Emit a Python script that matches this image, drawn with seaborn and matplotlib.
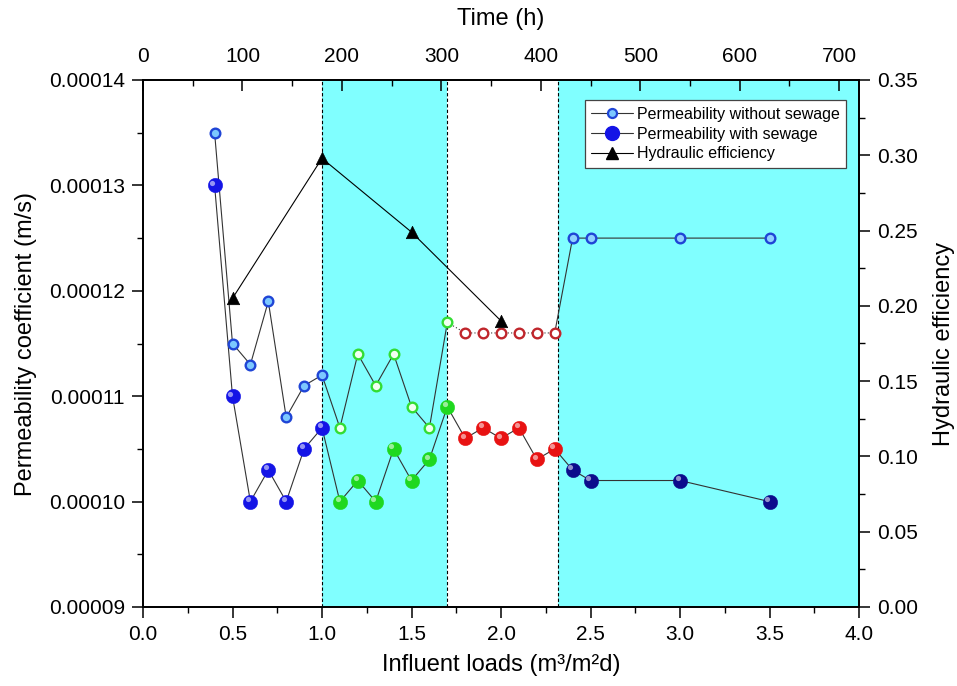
import numpy as np
import pandas as pd
import matplotlib
matplotlib.use("Agg")
import matplotlib.pyplot as plt
import seaborn as sns
from matplotlib.lines import Line2D
from matplotlib.ticker import MultipleLocator, FormatStrFormatter
from matplotlib.transforms import offset_copy

# ---------------- data ----------------
loads = [0.4, 0.5, 0.6, 0.7, 0.8, 0.9, 1.0,
         1.1, 1.2, 1.3, 1.4, 1.5, 1.6, 1.7,
         1.8, 1.9, 2.0, 2.1, 2.2, 2.3,
         2.4, 2.5, 3.0, 3.5]
perm_without = [1.35e-4, 1.15e-4, 1.13e-4, 1.19e-4, 1.08e-4, 1.11e-4, 1.12e-4,
                1.07e-4, 1.14e-4, 1.11e-4, 1.14e-4, 1.09e-4, 1.07e-4, 1.17e-4,
                1.16e-4, 1.16e-4, 1.16e-4, 1.16e-4, 1.16e-4, 1.16e-4,
                1.25e-4, 1.25e-4, 1.25e-4, 1.25e-4]
perm_with = [1.30e-4, 1.10e-4, 1.00e-4, 1.03e-4, 1.00e-4, 1.05e-4, 1.07e-4,
             1.00e-4, 1.02e-4, 1.00e-4, 1.05e-4, 1.02e-4, 1.04e-4, 1.09e-4,
             1.06e-4, 1.07e-4, 1.06e-4, 1.07e-4, 1.04e-4, 1.05e-4,
             1.03e-4, 1.02e-4, 1.02e-4, 1.00e-4]
stage = ["A"] * 7 + ["B"] * 7 + ["C"] * 6 + ["D"] * 4

eff_loads = [0.5, 1.0, 1.5, 2.0]
efficiency = [0.205, 0.298, 0.249, 0.19]

shaded_ranges = [(1.0, 1.7), (2.32, 4.0)]
boundaries = [1.0, 1.7, 2.32]

hours_per_load = 180
legend_labels = ["Permeability without sewage", "Permeability with sewage", "Hydraulic efficiency"]

open_face = {"A": "#7cc8ff", "B": "#f2fff2", "C": "#ffffff", "D": "#8fd0ff"}
open_edge = {"A": "#1f45d6", "B": "#33dd33", "C": "#c0262c", "D": "#1f45d6"}
fill_col = {"A": "#1414e6", "B": "#1fd81f", "C": "#e81212", "D": "#0c0c8c"}

df = pd.DataFrame({"load": loads, "without": perm_without,
                   "with": perm_with, "stage": stage})
eff_df = pd.DataFrame({"load": eff_loads, "eff": efficiency})

# ---------------- style ----------------
sns.set_theme(style="ticks")
plt.rcParams["font.family"] = ["Liberation Sans", "DejaVu Sans"]
plt.rcParams["text.color"] = "black"
plt.rcParams["axes.labelcolor"] = "black"
plt.rcParams["xtick.color"] = "black"
plt.rcParams["ytick.color"] = "black"
plt.rcParams["axes.edgecolor"] = "black"

fig = plt.figure(figsize=(9.57, 6.86), dpi=100)
ax = fig.add_axes([143 / 957, 1 - 607 / 686, 716 / 957, 527 / 686])
ax.set_facecolor("white")

for a, b in shaded_ranges:
    ax.axvspan(a, b, color="#80ffff", lw=0, zorder=0)
for xb in boundaries:
    ax.axvline(xb, color="black", ls=(0, (3, 2)), lw=0.8, zorder=1)

line_col = "#333333"
# open series lines
seg1 = df.iloc[0:14]
seg2 = df.iloc[13:20]
seg3 = df.iloc[19:24]
sns.lineplot(data=seg1, x="load", y="without", ax=ax, color=line_col, lw=0.8,
             estimator=None, sort=False, legend=False, zorder=2)
sns.lineplot(data=seg2, x="load", y="without", ax=ax, color=line_col, lw=0.8,
             ls=(0, (1, 2)), estimator=None, sort=False, legend=False, zorder=2)
sns.lineplot(data=seg3, x="load", y="without", ax=ax, color=line_col, lw=0.8,
             estimator=None, sort=False, legend=False, zorder=2)
# filled series line
sns.lineplot(data=df, x="load", y="with", ax=ax, color=line_col, lw=0.8,
             estimator=None, sort=False, legend=False, zorder=2)

hl = offset_copy(ax.transData, fig=fig, x=-1.6, y=1.8, units="points")
for st in ["A", "B", "C", "D"]:
    sub = df[df["stage"] == st]
    sns.scatterplot(data=sub, x="load", y="without", ax=ax, marker="o", s=48,
                    color=open_face[st], edgecolor=open_edge[st], linewidth=1.7,
                    zorder=4, legend=False)
    sns.scatterplot(data=sub, x="load", y="with", ax=ax, marker="o", s=108,
                    color=fill_col[st], edgecolor=fill_col[st], linewidth=0.3,
                    zorder=4, legend=False)
    sns.scatterplot(data=sub, x="load", y="with", ax=ax, marker="o", s=14,
                    color="white", alpha=0.55, linewidth=0, transform=hl,
                    zorder=5, legend=False)

ax.set_xlim(0, 4.0)
ax.set_ylim(9e-5, 1.4e-4)
ax.xaxis.set_major_locator(MultipleLocator(0.5))
ax.xaxis.set_minor_locator(MultipleLocator(0.25))
ax.yaxis.set_major_locator(MultipleLocator(1e-5))
ax.yaxis.set_minor_locator(MultipleLocator(5e-6))
ax.xaxis.set_major_formatter(FormatStrFormatter("%.1f"))
ax.yaxis.set_major_formatter(FormatStrFormatter("%.5f"))
ax.tick_params(which="major", direction="out", length=8, width=1.1, labelsize=15,
               bottom=True, left=True, top=False, right=False, pad=5)
ax.tick_params(which="minor", direction="out", length=4.5, width=1.0,
               bottom=True, left=True, top=False, right=False)
ax.set_xlabel("Influent loads (m³/m²d)", fontsize=17)
ax.set_ylabel("Permeability coefficient (m/s)", fontsize=17)
ax.xaxis.set_label_coords(0.5, -0.09)
ax.yaxis.set_label_coords(-0.148, 0.5)
for sp in ax.spines.values():
    sp.set_visible(True)
    sp.set_linewidth(1.1)
    sp.set_color("black")

# right axis: hydraulic efficiency
ax2 = ax.twinx()
sns.lineplot(data=eff_df, x="load", y="eff", ax=ax2, color="black", lw=0.8,
             estimator=None, sort=False, legend=False, zorder=3)
sns.scatterplot(data=eff_df, x="load", y="eff", ax=ax2, marker="^", s=80,
                color="black", edgecolor="black", linewidth=0.5, zorder=4, legend=False)
ax2.set_ylim(0, 0.35)
ax2.yaxis.set_major_locator(MultipleLocator(0.05))
ax2.yaxis.set_minor_locator(MultipleLocator(0.025))
ax2.yaxis.set_major_formatter(FormatStrFormatter("%.2f"))
ax2.tick_params(axis="y", which="major", direction="out", length=8, width=1.1,
                labelsize=15, right=True, left=False, pad=5)
ax2.tick_params(axis="y", which="minor", direction="out", length=4.5, width=1.0,
                right=True, left=False)
ax2.set_ylabel("Hydraulic efficiency", fontsize=17)
ax2.yaxis.set_label_coords(1.104, 0.5)
for sp in ax2.spines.values():
    sp.set_linewidth(1.1)
    sp.set_color("black")

# top axis: time
ax3 = ax.twiny()
ax3.set_xlim(0, 4.0 * hours_per_load)
ax3.xaxis.set_major_locator(MultipleLocator(100))
ax3.xaxis.set_minor_locator(MultipleLocator(50))
ax3.tick_params(axis="x", which="major", direction="in", length=8, width=1.1,
                labelsize=15, top=True, bottom=False, pad=10)
ax3.tick_params(axis="x", which="minor", direction="in", length=4.5, width=1.0,
                top=True, bottom=False)
ax3.set_xlabel("Time (h)", fontsize=17)
ax3.xaxis.set_label_coords(0.5, 1.104)
for sp in ax3.spines.values():
    sp.set_linewidth(1.1)
    sp.set_color("black")

handles = [
    Line2D([], [], color=line_col, lw=0.8, marker="o", ms=6.5,
           mfc="#7cc8ff", mec="#1f45d6", mew=1.6),
    Line2D([], [], color=line_col, lw=0.8, marker="o", ms=10,
           mfc="#1414e6", mec="#1414e6"),
    Line2D([], [], color="black", lw=0.8, marker="^", ms=9,
           mfc="black", mec="black"),
]
leg = ax3.legend(handles, legend_labels, loc="upper right",
                 bbox_to_anchor=(0.9825, 0.962), fontsize=11.5, frameon=True,
                 fancybox=False, framealpha=1, edgecolor="#444444",
                 borderpad=0.42, labelspacing=0.3, handlelength=2.6,
                 handletextpad=0.25, borderaxespad=0)
leg.get_frame().set_linewidth(0.9)

fig.savefig("out.png", dpi=100)
